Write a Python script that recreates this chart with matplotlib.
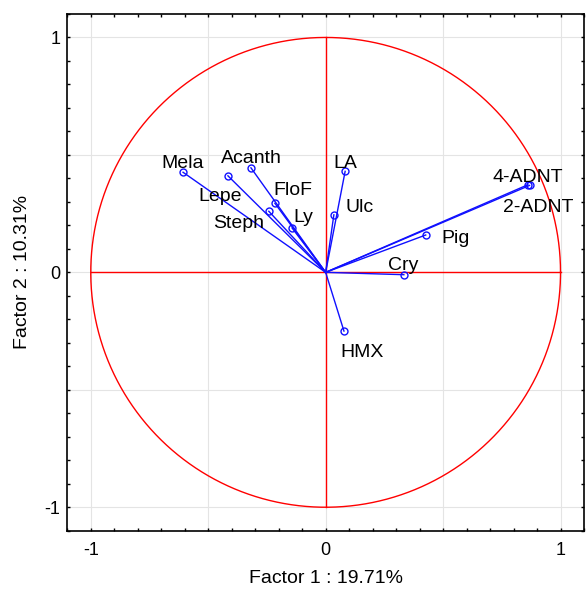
import matplotlib
matplotlib.use('Agg')
import matplotlib.pyplot as plt
import numpy as np

plt.rcParams['font.family'] = ['Liberation Sans', 'DejaVu Sans']

# Factor loadings (factor 1, factor 2)
names = ['Mela', 'Acanth', 'Lepe', 'FloF', 'Steph', 'Ly', 'LA', 'Ulc',
         '4-ADNT', '2-ADNT', 'Pig', 'Cry', 'HMX']
f1 = [-0.607, -0.318, -0.416, -0.216, -0.242, -0.143, 0.083, 0.035,
      0.868, 0.861, 0.426, 0.333, 0.078]
f2 = [0.426, 0.445, 0.411, 0.294, 0.260, 0.189, 0.430, 0.245,
      0.370, 0.373, 0.159, -0.010, -0.250]

# label anchor (centre, baseline) in data units
lab_x = [-0.607, -0.318, -0.450, -0.140, -0.370, -0.096, 0.083, 0.146,
         0.862, 0.907, 0.552, 0.331, 0.155]
lab_y = [0.443, 0.467, 0.305, 0.329, 0.189, 0.214, 0.444, 0.257,
         0.384, 0.257, 0.125, 0.010, -0.359]

fig = plt.figure(figsize=(5.86, 5.92), dpi=100)
ax = fig.add_axes([0.1148, 0.1035, 0.8818, 0.8729])

# unit circle and cross
t = np.linspace(0, 2 * np.pi, 400)
ax.plot(np.cos(t), np.sin(t), color='#ff0000', lw=1.0, zorder=2)
ax.plot([-1, 1], [0, 0], color='#ff0000', lw=1.0, zorder=2)
ax.plot([0, 0], [-1, 1], color='#ff0000', lw=1.0, zorder=2)

for x, y in zip(f1, f2):
    ax.plot([0, x], [0, y], color='#1010ff', lw=1.0, zorder=3)
ax.plot(f1, f2, 'o', ms=5, mfc='none', mec='#1010ff', mew=1.0, zorder=4)

for n, x, y in zip(names, lab_x, lab_y):
    ax.text(x, y, n, fontsize=14, ha='center', va='baseline', zorder=5)

ax.set_xlim(-1.1, 1.1)
ax.set_ylim(-1.1, 1.1)

major = [-1, -0.5, 0, 0.5, 1]
major_lbl = ['-1', '', '0', '', '1']
minor = np.round(np.arange(-1.1, 1.101, 0.1), 2)
ax.set_xticks(major)
ax.set_xticklabels(major_lbl)
ax.set_yticks(major)
ax.set_yticklabels(major_lbl)
ax.set_xticks(minor, minor=True)
ax.set_yticks(minor, minor=True)
ax.tick_params(which='both', direction='in', length=2.5, width=1.0,
               top=True, right=True, labelsize=13)
ax.tick_params(axis='x', pad=8)
ax.tick_params(axis='y', pad=5)
ax.grid(True, which='major', color='#e4e4e4', lw=0.8, zorder=0)
ax.set_axisbelow(True)
for s in ax.spines.values():
    s.set_linewidth(1.2)

ax.set_xlabel('Factor 1 : 19.71%', fontsize=14, labelpad=8)
ax.set_ylabel('Factor 2 : 10.31%', fontsize=14, labelpad=10)

fig.savefig('out.png', dpi=100)
